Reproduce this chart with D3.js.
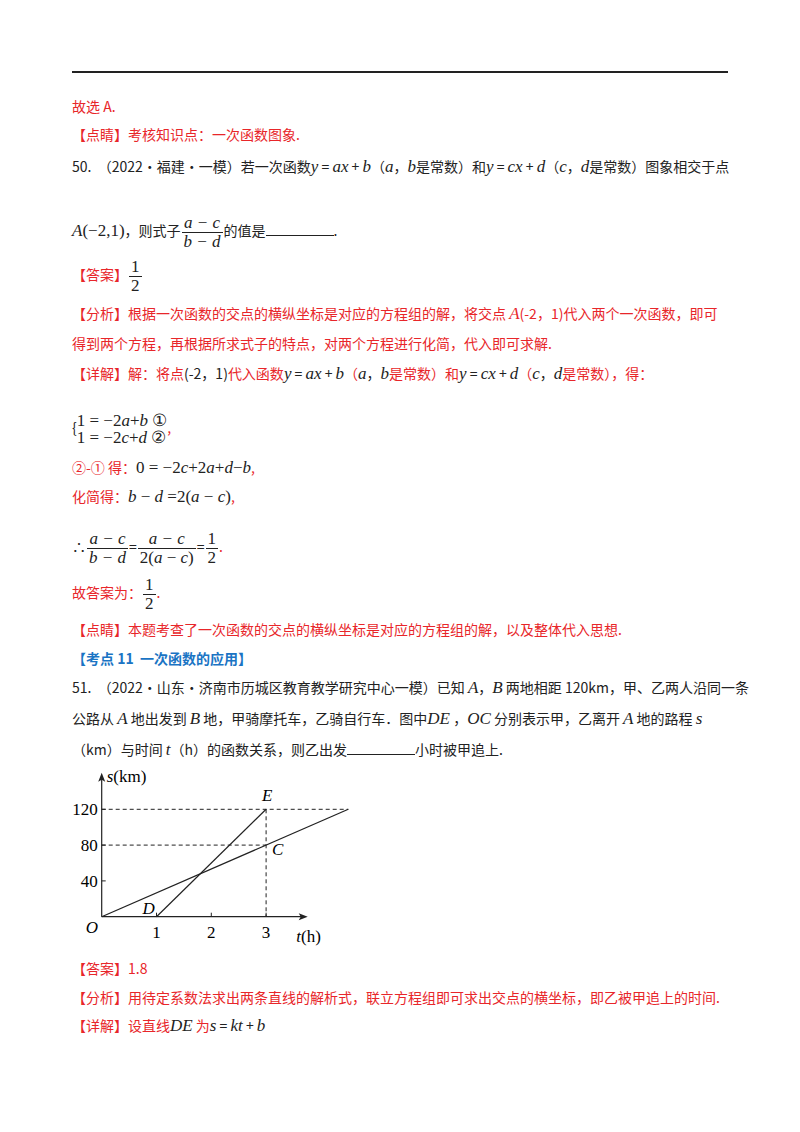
<!DOCTYPE html>
<html><head><meta charset="utf-8">
<script src="https://cdn.jsdelivr.net/npm/d3@7"></script>
<style>
body{margin:0;background:#fff;width:800px;height:1132px;position:relative;overflow:hidden;font-family:"Noto Sans CJK SC","Noto Sans",sans-serif;font-size:14px;color:#222}
.l{position:absolute;left:72px;height:20px;line-height:20px;white-space:nowrap}
.r{color:#e8262a}.b{color:#1a74c4;font-weight:bold}
.m{font-family:"Liberation Serif","DejaVu Serif",serif;font-style:italic;font-size:17px}
.n{font-family:"Liberation Serif",serif;font-size:17px}
.f{display:inline-block;vertical-align:middle;text-align:center;line-height:18px;margin:0 1px}
.f span{display:block;padding:0 2px}.f span:first-child{border-bottom:1px solid #222}
.blank{display:inline-block;width:68px;border-bottom:1px solid #222;height:14px}
</style></head><body>
<div style="position:absolute;left:72px;top:71px;width:656px;height:2px;background:#222"></div>
<div class="l r" style="top:96px">故选 A.</div>
<div class="l" style="top:124px"><span class="r">【点睛】考核知识点：一次函数图象.</span></div>
<div class="l" style="top:156px">50.&nbsp;&nbsp;（2022·福建·一模）若一次函数<span class="m">y</span> = <span class="m">ax</span> + <span class="m">b</span>（<span class="m">a</span>，<span class="m">b</span>是常数）和<span class="m">y</span> = <span class="m">cx</span> + <span class="m">d</span>（<span class="m">c</span>，<span class="m">d</span>是常数）图象相交于点</div>
<div class="l" style="top:214px"><span class="m">A</span><span class="n">(−2,1)</span>，则式子<span class="f"><span class="m">a − c</span><span class="m">b − d</span></span>的值是<span class="blank"></span>.</div>
<div class="l" style="top:258px"><span class="r">【答案】</span><span class="f n"><span>1</span><span>2</span></span></div>
<div class="l r" style="top:303px">【分析】根据一次函数的交点的横纵坐标是对应的方程组的解，将交点 <span class="m">A</span>(-2，1)代入两个一次函数，即可</div>
<div class="l r" style="top:333px">得到两个方程，再根据所求式子的特点，对两个方程进行化简，代入即可求解.</div>
<div class="l" style="top:363px"><span class="r">【详解】解：将点</span>(-2，1)<span class="r">代入函数</span><span class="m">y</span> = <span class="m">ax</span> + <span class="m">b</span><span class="r">（</span><span class="m">a</span>，<span class="m">b</span><span class="r">是常数）和</span><span class="m">y</span> = <span class="m">cx</span> + <span class="m">d</span><span class="r">（</span><span class="m">c</span>，<span class="m">d</span><span class="r">是常数），得：</span></div>
<div class="l" style="top:412px;height:36px;line-height:18px">{<span style="display:inline-block;vertical-align:middle;line-height:17px" class="n">1 = −2<i>a</i>+<i>b</i> ①<br>1 = −2<i>c</i>+<i>d</i> ②</span><span class="r">,</span></div>
<div class="l" style="top:457px"><span class="r">②-① 得：</span><span class="n">0 = −2<i>c</i>+2<i>a</i>+<i>d</i>−<i>b</i></span><span class="r">,</span></div>
<div class="l" style="top:486px"><span class="r">化简得：</span><span class="n"><i>b</i> − <i>d</i> =2(<i>a</i> − <i>c</i>)</span><span class="r">,</span></div>
<div class="l" style="top:530px">∴<span class="f"><span class="m">a − c</span><span class="m">b − d</span></span>=<span class="f"><span class="m">a − c</span><span class="n">2(<i>a</i> − <i>c</i>)</span></span>=<span class="f n"><span>1</span><span>2</span></span><span class="r">.</span></div>
<div class="l" style="top:576px"><span class="r">故答案为：</span><span class="f n"><span>1</span><span>2</span></span><span class="r">.</span></div>
<div class="l r" style="top:619px">【点睛】本题考查了一次函数的交点的横纵坐标是对应的方程组的解，以及整体代入思想.</div>
<div class="l b" style="top:648px">【考点 11&nbsp; 一次函数的应用】</div>
<div class="l" style="top:677px">51.&nbsp;&nbsp;（2022·山东·济南市历城区教育教学研究中心一模）已知 <span class="m">A</span>，<span class="m">B</span> 两地相距 120km，甲、乙两人沿同一条</div>
<div class="l" style="top:708px">公路从 <span class="m">A</span> 地出发到 <span class="m">B</span> 地，甲骑摩托车，乙骑自行车．图中<span class="m">DE</span> ，<span class="m">OC</span> 分别表示甲，乙离开 <span class="m">A</span> 地的路程 <span class="m">s</span></div>
<div class="l" style="top:739px">（km）与时间 <span class="m">t</span>（h）的函数关系，则乙出发<span class="blank"></span>小时被甲追上.</div>
<svg id="chart" width="800" height="1132" style="position:absolute;left:0;top:0"></svg>
<div class="l" style="top:958px"><span class="r">【答案】1.8</span></div>
<div class="l r" style="top:987px">【分析】用待定系数法求出两条直线的解析式，联立方程组即可求出交点的横坐标，即乙被甲追上的时间.</div>
<div class="l" style="top:1015px"><span class="r">【详解】设直线</span><span class="m">DE</span> <span class="r">为</span><span class="m">s</span> = <span class="m">kt</span> + <span class="m">b</span></div>
<script>
const yTicks=[40,80,120];
const xTicks=[1,2,3];
const lineDE=[[1,0],[3,120]];
const lineOC=[[0,0],[4.5,120]];
const pointLabels=[{n:"E",t:3,s:120,dx:-4,dy:-8},{n:"C",t:3,s:80,dx:6,dy:10},{n:"D",t:1,s:0,dx:-14,dy:-3},{n:"O",t:0,s:0,dx:-16,dy:16}];
const svg=d3.select("#chart");
const x=d3.scaleLinear().domain([0,1]).range([101.7,156.5]);
const y=d3.scaleLinear().domain([0,40]).range([916.7,880.9]);
const g=svg.append("g").attr("stroke","#222").attr("fill","none");
const serif='"Liberation Serif","DejaVu Serif",serif';
g.append("line").attr("x1",x(0)).attr("x2",x(4.5)).attr("y1",y(120)).attr("y2",y(120)).attr("stroke-dasharray","4,3");
g.append("line").attr("x1",x(0)).attr("x2",x(3)).attr("y1",y(80)).attr("y2",y(80)).attr("stroke-dasharray","4,3");
g.append("line").attr("x1",x(3)).attr("x2",x(3)).attr("y1",y(120)).attr("y2",y(0)).attr("stroke-dasharray","4,3");
g.append("line").attr("x1",x(0)).attr("x2",x(3.65)).attr("y1",y(0)).attr("y2",y(0)).attr("stroke-width",1.2);
g.append("line").attr("x1",x(0)).attr("x2",x(0)).attr("y1",y(0)).attr("y2",y(154)).attr("stroke-width",1.2);
svg.append("path").attr("d",`M${x(3.65)+6},${y(0)}l-9,-3.5l2,3.5l-2,3.5z`).attr("fill","#222");
svg.append("path").attr("d",`M${x(0)},${y(154)-6}l-3.5,9l3.5,-2l3.5,2z`).attr("fill","#222");
const ln=d3.line().x(d=>x(d[0])).y(d=>y(d[1]));
g.append("path").attr("d",ln(lineDE)).attr("stroke-width",1.2);
g.append("path").attr("d",ln(lineOC)).attr("stroke-width",1.2);
xTicks.forEach(t=>{g.append("line").attr("x1",x(t)).attr("x2",x(t)).attr("y1",y(0)).attr("y2",y(0)-4);
 svg.append("text").attr("x",x(t)).attr("y",y(0)+21).attr("text-anchor","middle").attr("font-family",serif).attr("font-size",17).text(t);});
yTicks.forEach(s=>{g.append("line").attr("x1",x(0)).attr("x2",x(0)+4).attr("y1",y(s)).attr("y2",y(s));
 svg.append("text").attr("x",x(0)-4).attr("y",y(s)+6).attr("text-anchor","end").attr("font-family",serif).attr("font-size",17).text(s);});
pointLabels.forEach(p=>svg.append("text").attr("x",x(p.t)+p.dx).attr("y",y(p.s)+p.dy).attr("font-family",serif).attr("font-style","italic").attr("font-size",17).text(p.n));
const sl=svg.append("text").attr("x",x(0)+5).attr("y",y(154)+3).attr("font-family",serif).attr("font-size",17);
sl.append("tspan").attr("font-style","italic").text("s");sl.append("tspan").text("(km)");
const tl=svg.append("text").attr("x",x(3.55)).attr("y",y(0)+25).attr("font-family",serif).attr("font-size",17);
tl.append("tspan").attr("font-style","italic").text("t");tl.append("tspan").text("(h)");
</script>
</body></html>
